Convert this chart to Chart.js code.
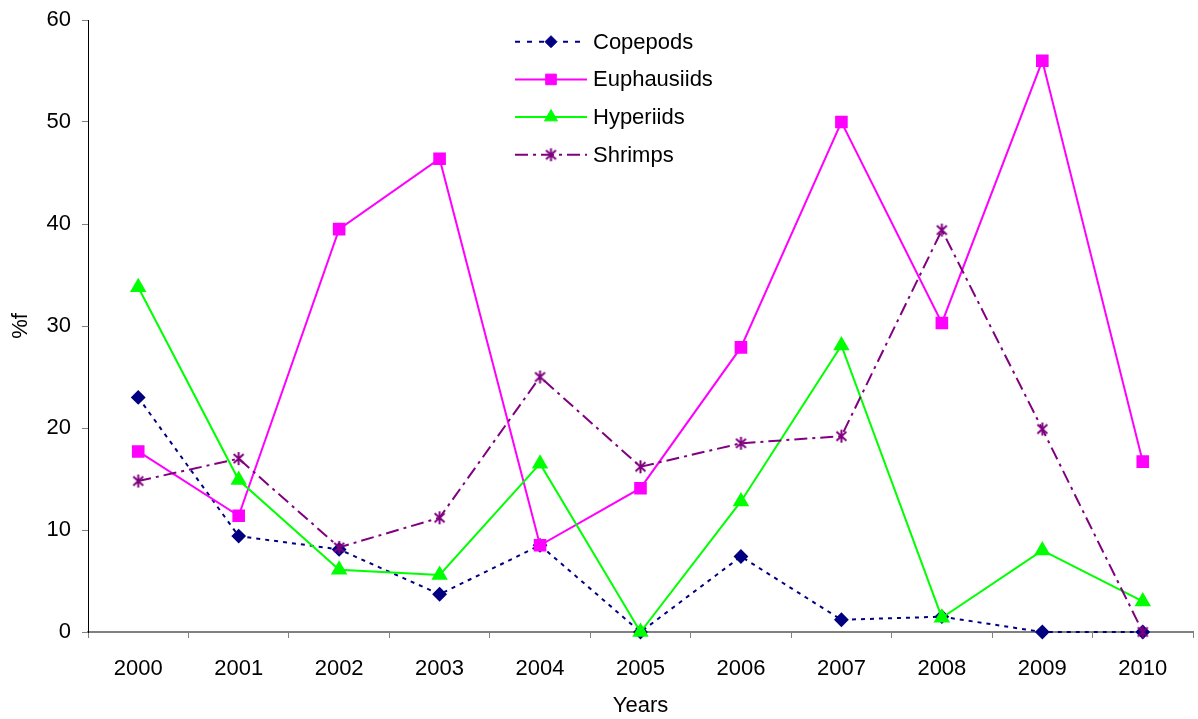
<!DOCTYPE html>
<html>
<head>
<meta charset="utf-8">
<title>%f by year</title>
<script src="https://cdn.jsdelivr.net/npm/chart.js@4/dist/chart.umd.min.js"></script>
<style>
  html, body { margin: 0; padding: 0; background: #fff; }
  #wrap { width: 1198px; height: 719px; }
</style>
</head>
<body>
<div id="wrap"><canvas id="c" width="1198" height="719"></canvas></div>
<script>
// Years on the category axis
const years = ['2000', '2001', '2002', '2003', '2004', '2005', '2006', '2007', '2008', '2009', '2010'];

// %f of each prey group per year
const copepods    = [23.0, 9.4, 8.1, 3.7, 8.5, 0, 7.4, 1.2, 1.5, 0, 0];
const euphausiids = [17.7, 11.4, 39.5, 46.4, 8.5, 14.1, 27.9, 50.0, 30.3, 56.0, 16.7];
const hyperiids   = [33.8, 14.9, 6.1, 5.6, 16.5, 0, 12.8, 28.1, 1.4, 8.0, 3.0];
const shrimps     = [14.8, 17.0, 8.3, 11.2, 25.0, 16.2, 18.5, 19.2, 39.4, 19.9, 0];

// Value axis range
const yMin = 0;
const yMax = 60;
const yStep = 10;

const FONT = '"Liberation Sans", Arial, Helvetica, sans-serif';
Chart.defaults.font.family = FONT;
Chart.defaults.font.size = 22;
Chart.defaults.color = '#000';

// Asterisk marker: an X crossed by a vertical stroke
function makeStar(color) {
  const s = 15;
  const cv = document.createElement('canvas');
  cv.width = s; cv.height = s;
  const g = cv.getContext('2d');
  g.strokeStyle = color;
  g.lineWidth = 2;
  g.beginPath();
  g.moveTo(2.5, 3); g.lineTo(12.5, 12);
  g.moveTo(12.5, 3); g.lineTo(2.5, 12);
  g.moveTo(7.5, 1); g.lineTo(7.5, 14);
  g.stroke();
  return cv;
}
const starMarker = makeStar('#800080');

// Legend stacked in the upper middle, each entry showing its line style and marker
const seriesLegend = {
  id: 'seriesLegend',
  afterDraw(chart) {
    const ctx = chart.ctx;
    const x0 = 515, x1 = 587, xm = 551, xt = 593;
    const top = 41.7, gap = 37.7;
    chart.data.datasets.forEach((ds, i) => {
      const y = top + i * gap;
      ctx.save();
      ctx.strokeStyle = ds.borderColor;
      ctx.lineWidth = ds.borderWidth;
      ctx.setLineDash(ds.legendDash || ds.borderDash || []);
      ctx.beginPath();
      ctx.moveTo(x0, y);
      ctx.lineTo(x1, y);
      ctx.stroke();
      ctx.setLineDash([]);
      ctx.fillStyle = ds.pointBackgroundColor;
      ctx.strokeStyle = ds.pointBorderColor;
      ctx.lineWidth = 1;
      Chart.helpers.drawPoint(ctx, {
        pointStyle: ds.pointStyle,
        radius: ds.pointRadius,
        rotation: 0,
        borderWidth: 1
      }, xm, y);
      ctx.fillStyle = '#000';
      ctx.font = '22px ' + FONT;
      ctx.textBaseline = 'middle';
      ctx.textAlign = 'left';
      ctx.fillText(ds.label, xt, y + 1);
      ctx.restore();
    });
  }
};

new Chart(document.getElementById('c'), {
  type: 'line',
  data: {
    labels: years,
    datasets: [
      {
        label: 'Copepods',
        data: copepods,
        borderColor: '#000080',
        borderWidth: 2,
        borderDash: [4, 5],
        legendDash: [5, 7],
        pointStyle: 'rectRot',
        pointRadius: 6,
        pointBackgroundColor: '#000080',
        pointBorderColor: '#000080',
        order: 3,
        clip: false
      },
      {
        label: 'Euphausiids',
        data: euphausiids,
        borderColor: '#ff00ff',
        borderWidth: 2,
        pointStyle: 'rect',
        pointRadius: 7.5,
        pointBackgroundColor: '#ff00ff',
        pointBorderColor: '#ff00ff',
        order: 2,
        clip: false
      },
      {
        label: 'Hyperiids',
        data: hyperiids,
        borderColor: '#00ff00',
        borderWidth: 2,
        pointStyle: 'triangle',
        pointRadius: 7.5,
        pointBackgroundColor: '#00ff00',
        pointBorderColor: '#00ff00',
        order: 1,
        clip: false
      },
      {
        label: 'Shrimps',
        data: shrimps,
        borderColor: '#800080',
        borderWidth: 2,
        borderDash: [13, 5, 3, 5],
        pointStyle: starMarker,
        pointRadius: 7,
        pointBackgroundColor: '#800080',
        pointBorderColor: '#800080',
        order: 0,
        clip: false
      }
    ]
  },
  options: {
    responsive: false,
    animation: false,
    events: [],
    layout: { autoPadding: false, padding: { top: 20, right: 5, left: 0, bottom: 0 } },
    elements: { line: { tension: 0 } },
    plugins: {
      legend: { display: false },
      tooltip: { enabled: false }
    },
    scales: {
      x: {
        type: 'category',
        offset: true,
        grid: {
          offset: true,
          drawOnChartArea: false,
          drawTicks: true,
          tickLength: 6,
          color: '#808080',
          lineWidth: 1
        },
        border: { color: '#808080', width: 2 },
        ticks: {
          padding: 18,
          maxRotation: 0,
          autoSkip: false,
          font: { size: 22 },
          color: '#000'
        },
        title: {
          display: true,
          text: 'Years',
          font: { size: 22 },
          color: '#000',
          padding: { top: 0, bottom: 0 }
        },
        afterFit(scale) {
          scale.height = 87;
          scale.paddingLeft = 0;
          scale.paddingRight = 0;
        }
      },
      y: {
        min: yMin,
        max: yMax,
        grid: {
          drawOnChartArea: false,
          drawTicks: true,
          tickLength: 6,
          color: '#808080',
          lineWidth: 1
        },
        border: { color: '#000', width: 1 },
        ticks: {
          stepSize: yStep,
          padding: 11,
          font: { size: 22 },
          color: '#000'
        },
        title: {
          display: true,
          text: '%f',
          font: { size: 22 },
          color: '#000',
          padding: { top: 8, bottom: 0 }
        },
        afterFit(scale) {
          scale.width = 88;
          scale.paddingTop = 0;
          scale.paddingBottom = 0;
        }
      }
    }
  },
  plugins: [seriesLegend]
});
</script>
</body>
</html>
